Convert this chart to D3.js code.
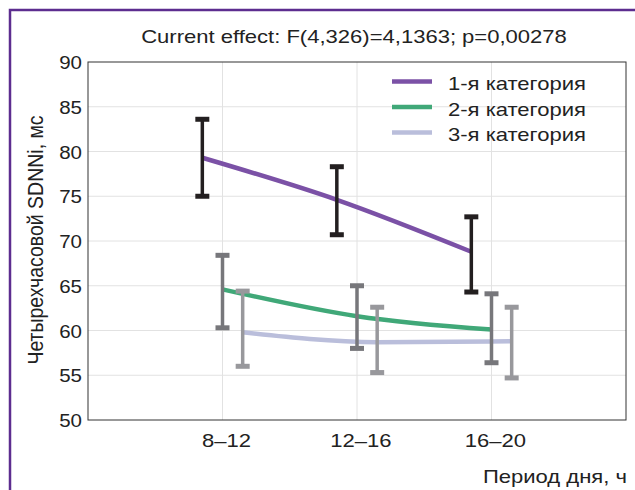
<!DOCTYPE html>
<html>
<head>
<meta charset="utf-8">
<script src="https://cdn.jsdelivr.net/npm/d3@7"></script>
<style>
  body { margin: 0; background: #fff; }
  svg { display: block; font-family: "Liberation Sans", Arial, sans-serif; }
</style>
</head>
<body>
<div id="chart"></div>
<script>
// данные
const periods = ["8–12", "12–16", "16–20"];
const seriesNames = ["1-я категория", "2-я категория", "3-я категория"];
const means1 = [79.3, 74.6, 68.8];
const lower1 = [75.0, 70.7, 64.3];
const upper1 = [83.6, 78.3, 72.7];
const means2 = [64.6, 61.6, 60.1];
const lower2 = [60.3, 58.0, 56.4];
const upper2 = [68.4, 65.0, 64.1];
const means3 = [59.8, 58.7, 58.8];
const lower3 = [56.0, 55.3, 54.7];
const upper3 = [64.4, 62.6, 62.6];
const yTicks = [50, 55, 60, 65, 70, 75, 80, 85, 90];

const series = [
  {name: seriesNames[0], mean: means1, lo: lower1, hi: upper1, color: "#7b51a6", bar: "#231f20", shift: -0.15},
  {name: seriesNames[1], mean: means2, lo: lower2, hi: upper2, color: "#40a878", bar: "#77777b", shift: 0},
  {name: seriesNames[2], mean: means3, lo: lower3, hi: upper3, color: "#babedb", bar: "#98989c", shift: 0.15}
];

const W = 635, H = 490;
const m = {left: 88, right: 9, top: 62, bottom: 70};
const FS = 19, SX = 1.16; // шрифт немного растянут по горизонтали

const svg = d3.select("#chart").append("svg")
  .attr("width", W).attr("height", H);

// текст с растяжкой
function label(px, py, str, anchor, sx = SX) {
  return svg.append("text")
    .attr("transform", `translate(${px},${py}) scale(${sx},1)`)
    .attr("text-anchor", anchor)
    .attr("font-size", FS).attr("fill", "#222")
    .text(str);
}

// рамка
svg.append("rect")
  .attr("x", 10).attr("y", 10).attr("width", W).attr("height", H)
  .attr("fill", "none").attr("stroke", "#5c2d8f").attr("stroke-width", 2.5);

const x = d3.scaleLinear().domain([0, 4]).range([m.left, W - m.right]);
const y = d3.scaleLinear().domain([50, 90]).range([H - m.bottom, m.top]);

// сетка
svg.append("g").selectAll("line")
  .data(yTicks.slice(1, -1)).join("line")
  .attr("x1", x(0)).attr("x2", x(4))
  .attr("y1", d => y(d)).attr("y2", d => y(d))
  .attr("stroke", "#e2e2e2").attr("stroke-width", 1);
svg.append("g").selectAll("line")
  .data(periods).join("line")
  .attr("x1", (d, i) => x(i + 1)).attr("x2", (d, i) => x(i + 1))
  .attr("y1", y(50)).attr("y2", y(90))
  .attr("stroke", "#e2e2e2").attr("stroke-width", 1);

svg.append("rect")
  .attr("x", x(0)).attr("y", y(90))
  .attr("width", x(4) - x(0)).attr("height", y(50) - y(90))
  .attr("fill", "none").attr("stroke", "#333").attr("stroke-width", 1);

// ось Y
yTicks.forEach(t => label(x(0) - 6, y(t) + 7, String(t), "end", 1.08));

// ось X
periods.forEach((p, i) => label(x(i + 1) + 4, 447, p, "middle"));

// линии
const line = d3.line().curve(d3.curveMonotoneX);
series.forEach(s => {
  const pts = s.mean.map((v, i) => [x(i + 1 + s.shift), y(v)]);
  svg.append("path")
    .attr("d", line(pts))
    .attr("fill", "none").attr("stroke", s.color).attr("stroke-width", 4.5);
});

// планки погрешностей
series.forEach(s => {
  const g = svg.append("g").attr("stroke", s.bar);
  s.mean.forEach((v, i) => {
    const cx = x(i + 1 + s.shift);
    g.append("line").attr("x1", cx).attr("x2", cx)
      .attr("y1", y(s.lo[i])).attr("y2", y(s.hi[i])).attr("stroke-width", 3.5);
    [s.lo[i], s.hi[i]].forEach(e => {
      g.append("line").attr("x1", cx - 7).attr("x2", cx + 7)
        .attr("y1", y(e)).attr("y2", y(e)).attr("stroke-width", 5);
    });
  });
});

// легенда
series.forEach((s, i) => {
  const ly = 81.5 + i * 25.5;
  svg.append("line").attr("x1", 392).attr("x2", 432)
    .attr("y1", ly).attr("y2", ly)
    .attr("stroke", s.color).attr("stroke-width", 4.5);
  label(448, ly + 8.5, s.name, "start");
});

// подписи
label(354, 42.5, "Current effect: F(4,326)=4,1363; p=0,00278", "middle");

svg.append("text")
  .attr("transform", `translate(43,${(y(50) + y(90)) / 2 - 1}) rotate(-90) scale(1,1.14)`)
  .attr("text-anchor", "middle")
  .attr("font-size", 19.5).attr("fill", "#222")
  .text("Четырехчасовой SDNNi, мс");

label(627, 483, "Период дня, ч", "end");
</script>
</body>
</html>
